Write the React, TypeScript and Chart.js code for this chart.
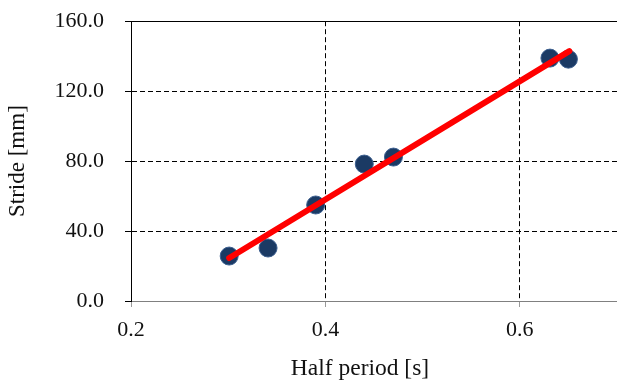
import React, { useEffect, useRef } from "react";
import { Chart, registerables } from "chart.js";

Chart.register(...registerables);

const halfPeriod = [0.301, 0.341, 0.39, 0.44, 0.47, 0.631, 0.65];
const stride = [25.7, 30.3, 54.9, 78.3, 82.3, 138.9, 138.3];
const fitX = [0.301, 0.651];
const fitY = [24.6, 142.9];
const xTickValues = [0.2, 0.4, 0.6];
const yTickValues = [0, 40, 80, 120, 160];
const xTitle = "Half period [s]";
const yTitle = "Stride [mm]";

const FONT = "'Liberation Serif', 'Times New Roman', serif";

export default function App() {
  const ref = useRef<HTMLCanvasElement | null>(null);

  useEffect(() => {
    if (!ref.current) return;
    const chart = new Chart(ref.current, {
      type: "scatter",
      data: {
        datasets: [
          {
            type: "line",
            label: "fit",
            data: fitX.map((x, i) => ({ x, y: fitY[i] })),
            borderColor: "#ff0000",
            borderWidth: 6,
            borderCapStyle: "round",
            pointRadius: 0,
            fill: false,
          } as any,
          {
            label: "data",
            data: halfPeriod.map((x, i) => ({ x, y: stride[i] })),
            backgroundColor: "#1b3a64",
            borderColor: "#3c5f8f",
            borderWidth: 1,
            pointRadius: 9,
          },
        ],
      },
      options: {
        animation: false,
        responsive: true,
        maintainAspectRatio: false,
        layout: { padding: { top: 10, right: -10, left: 0, bottom: 0 } },
        plugins: { legend: { display: false }, tooltip: { enabled: false } },
        scales: {
          x: {
            type: "linear",
            min: 0.2,
            max: 0.7,
            afterBuildTicks: (axis: any) => {
              axis.ticks = axis.ticks.filter((t: any) =>
                xTickValues.some((v) => Math.abs(v - t.value) < 1e-6)
              );
            },
            afterFit: (axis: any) => {
              axis.height = 84;
            },
            ticks: {
              stepSize: 0.2,
              padding: 10,
              color: "#111",
              font: { family: FONT, size: 22 },
              callback: (v: any) => Number(v).toFixed(1),
            },
            grid: {
              color: "#000",
              lineWidth: 1,
              tickLength: 6,
              tickColor: "#999",
            },
            border: {
              color: "#808080",
              width: 1,
              dash: (ctx: any) => (ctx.tick ? [5, 3] : []),
            },
            title: { display: false },
          },
          y: {
            type: "linear",
            min: 0,
            max: 160,
            afterBuildTicks: (axis: any) => {
              axis.ticks = yTickValues.map((v) => ({ value: v }));
            },
            afterFit: (axis: any) => {
              axis.width = 131;
            },
            ticks: {
              stepSize: 40,
              padding: 21,
              color: "#111",
              font: { family: FONT, size: 22 },
              callback: (v: any) => Number(v).toFixed(1),
            },
            grid: {
              color: "#000",
              lineWidth: 1,
              tickLength: 6,
              tickColor: "#000",
            },
            border: {
              color: "#000",
              width: 1,
              dash: (ctx: any) =>
                ctx.tick && ctx.tick.value !== 160 ? [5, 3] : [],
            },
            title: {
              display: true,
              text: yTitle,
              color: "#111",
              font: { family: FONT, size: 23 },
              padding: { top: 4, bottom: 0 },
            },
          },
        },
      },
    });
    return () => chart.destroy();
  }, []);

  return (
    <div
      style={{
        position: "absolute",
        left: 0,
        top: 0,
        width: 617,
        height: 385,
        overflow: "hidden",
      }}
    >
      <div style={{ position: "absolute", left: 0, top: -13, width: 627, height: 398 }}>
        <canvas ref={ref} />
      </div>
      <div
        style={{
          position: "absolute",
          left: 0,
          top: 354,
          width: 720,
          textAlign: "center",
          fontFamily: FONT,
          fontSize: 23.5,
          lineHeight: "26px",
          color: "#111",
          whiteSpace: "nowrap",
        }}
      >
        {xTitle}
      </div>
    </div>
  );
}
